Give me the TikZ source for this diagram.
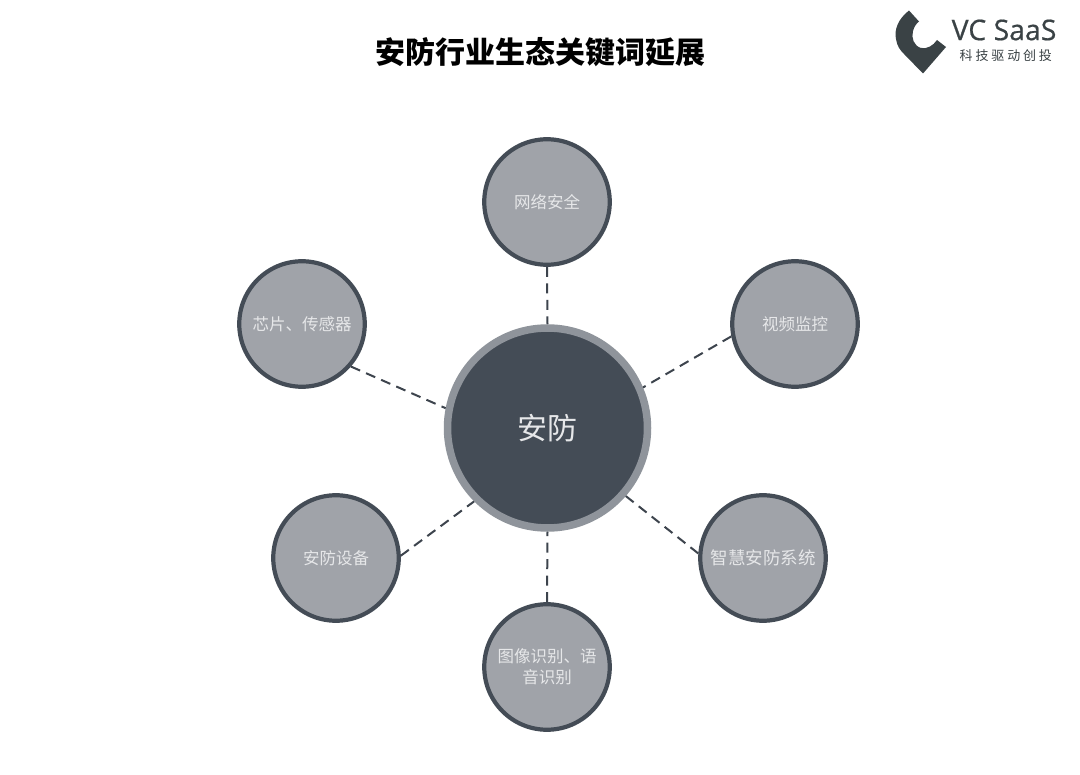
\documentclass[tikz,border=0pt]{standalone}
\usepackage{fontspec}
\setmainfont{Noto Sans CJK SC}
\newfontfamily\latinfont[FakeBold=0.6]{Open Sans}
\definecolor{darkc}{HTML}{444C56}
\definecolor{ringc}{HTML}{8F949B}
\definecolor{greyc}{HTML}{A0A3A9}
\definecolor{textc}{HTML}{E6E7E9}
\definecolor{logoc}{HTML}{3A4245}
\tikzset{
 x=1pt,y=-1pt,
 leaf/.style={circle,draw=darkc,line width=4.2pt,fill=greyc,minimum size=125.5pt,inner sep=0pt,text=textc,font=\fontsize{16.5}{21}\selectfont,align=center,text width=108pt},
 hub/.style={circle,draw=ringc,line width=7.5pt,fill=darkc,minimum size=200pt,inner sep=0pt,text=textc,font=\fontsize{30}{36}\selectfont},
 link/.style={draw=darkc!90!black,line width=2pt,dash pattern=on 10pt off 6.5pt},
 titletext/.style={font=\fontsize{30}{36}\selectfont\bfseries,text=black},
 logotext/.style={text=logoc,inner sep=0pt,anchor=west}
}
\begin{document}
\begin{tikzpicture}
\useasboundingbox (0,0) rectangle (1080,775);
\fill[white] (0,0) rectangle (1080,775);
\node[titletext] (title) at (540,52.5) {安防行业生态关键词延展};
\node[hub] (hubn) at (547.5,428) {安防};
\node[leaf] (n1) at (547,202) {网络安全};
\node[leaf] (n2) at (795,324) {视频监控};
\node[leaf,font=\fontsize{17.5}{21}\selectfont,text width=112pt] (n3) at (763,558) {智慧安防系统};
\node[leaf] (n4) at (547,667) {图像识别、语\\音识别};
\node[leaf] (n5) at (336,558) {安防设备};
\node[leaf] (n6) at (302,324) {芯片、传感器};
\draw[link] (n1.270) -- (hubn.90);
\draw[link] (n2.191) -- (hubn.23.5);
\draw[link] (n3.176) -- (hubn.-41);
\draw[link] (n4.90) -- (hubn.270);
\draw[link] (n5.2) -- (hubn.225);
\draw[link] (n6.-41) -- (hubn.169);
% logo
\fill[logoc] (909,10.5) .. controls (898,19) and (894,30) .. (896,39)
 .. controls (897,46) and (900,50) .. (904,54)
 -- (923,73.5) -- (946,47) -- (937,40)
 .. controls (933,46) and (927,49) .. (921,48)
 .. controls (914,46) and (911,38) .. (913,31)
 .. controls (914,27) and (916,24) .. (919,21.5) -- cycle;
\node[logotext,font=\latinfont\fontsize{28.4}{30}\selectfont] (logo1) at (951.5,30) {VC SaaS};
\node[logotext,font=\fontsize{13}{15}\selectfont] (logo2) at (959.5,56) {\addfontfeature{LetterSpace=22}科技驱动创投};
\end{tikzpicture}
\end{document}
